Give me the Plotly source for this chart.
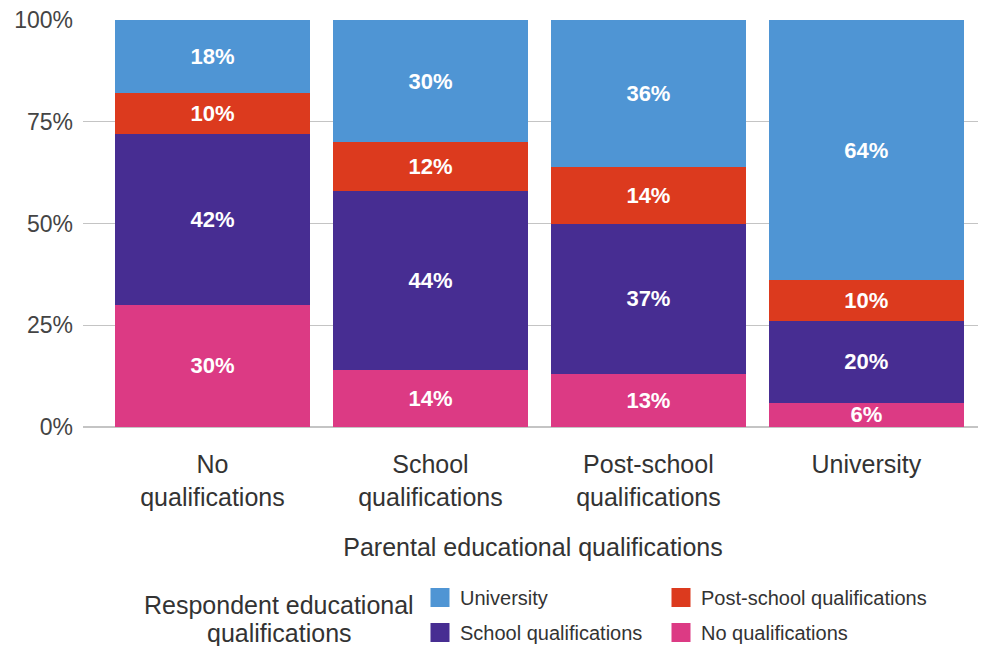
import plotly.graph_objects as go

categories = ["No<br>qualifications", "School<br>qualifications", "Post-school<br>qualifications", "University"]
no_qual = [30, 14, 13, 6]
school_qual = [42, 44, 37, 20]
post_school = [10, 12, 14, 10]
university = [18, 30, 36, 64]

# name, values, colour, legend, rank within legend
series = [
    ("No qualifications", no_qual, "#dc3a84", "legend2", 2),
    ("School qualifications", school_qual, "#472d92", "legend", 2),
    ("Post-school qualifications", post_school, "#dc3a1e", "legend2", 1),
    ("University", university, "#4f95d4", "legend", 1),
]

FONT = "Liberation Sans, Arial, sans-serif"

fig = go.Figure()
for name, vals, color, lg, rank in series:
    fig.add_trace(go.Bar(
        x=categories, y=vals, name=name, marker=dict(color=color, line=dict(width=0)),
        texttemplate="<b>%{y}%</b>", textposition="inside", insidetextanchor="middle",
        textangle=0, constraintext="none",
        textfont=dict(color="white", size=22, family=FONT),
        showlegend=False, hoverinfo="skip",
    ))
# legend entries (larger square swatches)
for name, vals, color, lg, rank in series:
    fig.add_trace(go.Scatter(
        x=[None], y=[None], mode="markers", name=name,
        marker=dict(symbol="square", size=16, color=color, line=dict(color=color, width=3)),
        legend=lg, legendgroup=name, legendrank=rank, showlegend=True, hoverinfo="skip",
    ))

W, H = 978, 638
L, R, T = 75, 3, 12
PH = 407
B = H - T - PH

fig.update_layout(
    barmode="stack", bargap=0.105,
    width=W, height=H,
    margin=dict(l=L, r=R, t=T, b=B, autoexpand=False),
    plot_bgcolor="white", paper_bgcolor="white",
    font=dict(family=FONT, color="#333333"),
    showlegend=True,
    xaxis=dict(
        range=[-0.594, 3.535], showgrid=False, zeroline=False, showline=False, automargin=False,
        tickfont=dict(size=25, color="#333333"), ticks="", ticklabelstandoff=20,
        title=dict(text="Parental educational qualifications", font=dict(size=25, color="#333333"), standoff=28),
    ),
    yaxis=dict(
        range=[0, 100], tickvals=[0, 25, 50, 75, 100], ticktext=["0%", "25%", "50%", "75%", "100%"],
        showgrid=True, gridcolor="#c4c4c4", gridwidth=1, zeroline=True, zerolinecolor="#c4c4c4",
        tickfont=dict(size=23, color="#444444"), ticks="", ticklabelstandoff=9,
        ticklabeloverflow="allow", automargin=False,
    ),
    legend=dict(
        x=(440 - 28 - L) / 900, y=(419 - 570) / PH, xanchor="left", yanchor="top", orientation="v",
        traceorder="grouped", tracegroupgap=6, font=dict(size=20, color="#333333"),
        bgcolor="rgba(0,0,0,0)",
    ),
    legend2=dict(
        x=(681 - 28 - L) / 900, y=(419 - 570) / PH, xanchor="left", yanchor="top", orientation="v",
        traceorder="grouped", tracegroupgap=6, font=dict(size=20, color="#333333"),
        bgcolor="rgba(0,0,0,0)",
    ),
    annotations=[
        dict(text="Respondent educational", xref="paper", yref="paper",
             x=(271 - L) / 900, y=(419 - 597) / PH, xanchor="center", yanchor="middle",
             showarrow=False, font=dict(size=25, color="#333333")),
        dict(text="qualifications", xref="paper", yref="paper",
             x=(271 - L) / 900, y=(419 - 625) / PH, xanchor="center", yanchor="middle",
             showarrow=False, font=dict(size=25, color="#333333")),
    ],
)

fig.write_html("out.html")
